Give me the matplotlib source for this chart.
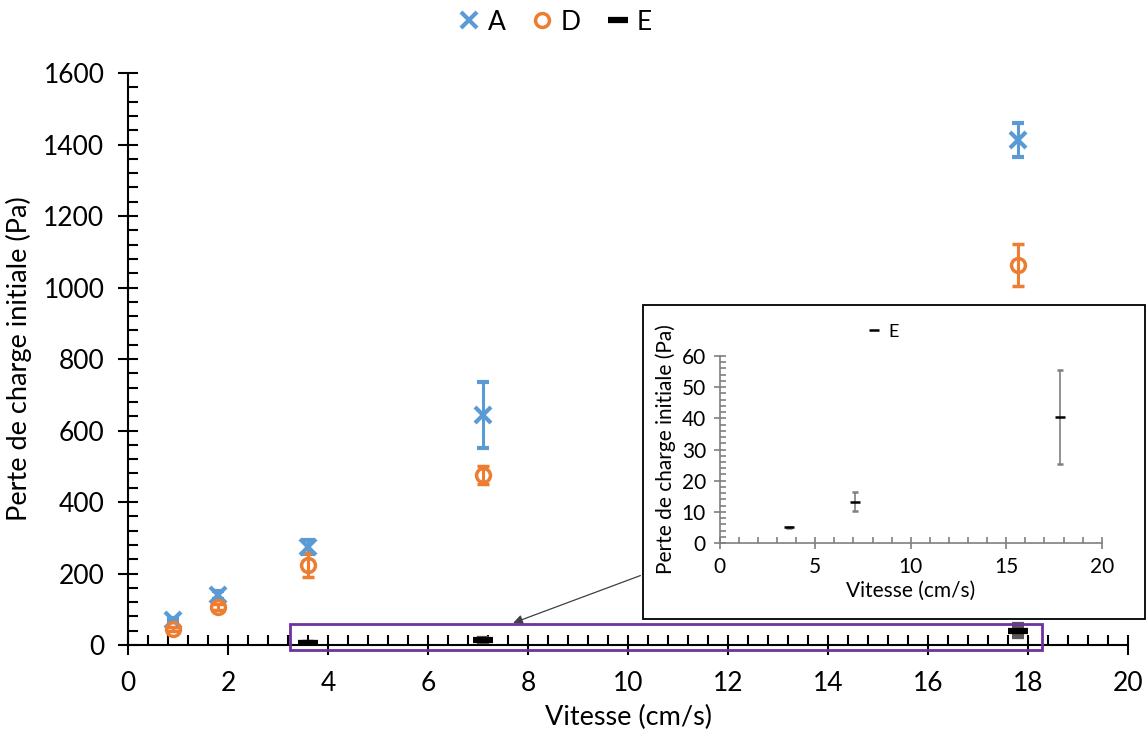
import matplotlib.pyplot as plt
from matplotlib.patches import Rectangle
from matplotlib.lines import Line2D
from matplotlib.ticker import MultipleLocator

plt.rcParams['font.family'] = ['Lato', 'DejaVu Sans']

# Data (vitesse in cm/s, perte de charge in Pa)
x_A = [0.9, 1.8, 3.6, 7.1, 17.8]
y_A = [70, 140, 275, 643, 1412]
err_A = [6, 10, 20, 92, 48]

x_D = [0.9, 1.8, 3.6, 7.1, 17.8]
y_D = [45, 106, 224, 475, 1063]
err_D = [6, 8, 33, 25, 60]

x_E = [3.6, 7.1, 17.8]
y_E = [5, 13.3, 40.5]
err_E = [0.3, 3, 15]

blue = '#5B9BD5'
orange = '#ED7D31'

fig = plt.figure(figsize=(11.48, 7.38), dpi=100)
ax = fig.add_axes([0.1115, 0.126, 0.8711, 0.775])

ax.errorbar(x_A, y_A, yerr=err_A, fmt='x', color=blue, ms=11, mew=3,
            elinewidth=2.2, capsize=4, capthick=2.2, zorder=3)
ax.errorbar(x_D, y_D, yerr=err_D, fmt='o', color=orange, mfc='none', ms=10, mew=2.5,
            elinewidth=2.2, capsize=4, capthick=2.2, zorder=3)
ax.errorbar(x_E, y_E, yerr=err_E, fmt='_', color='black', ms=14, mew=4.5,
            ecolor='#595959', elinewidth=2, capsize=4, capthick=2, zorder=3)

ax.set_xlim(0, 20)
ax.set_ylim(0, 1600)
ax.xaxis.set_major_locator(MultipleLocator(2))
ax.xaxis.set_minor_locator(MultipleLocator(0.4))
ax.yaxis.set_major_locator(MultipleLocator(200))
ax.yaxis.set_minor_locator(MultipleLocator(40))
ax.spines['top'].set_visible(False)
ax.spines['right'].set_visible(False)
for s in ['left', 'bottom']:
    ax.spines[s].set_linewidth(1.5)
ax.tick_params(which='major', direction='inout', length=14, width=1.5, labelsize=19)
ax.tick_params(axis='x', which='major', pad=12)
ax.tick_params(axis='y', which='major', pad=10)
ax.tick_params(which='minor', direction='in', length=7, width=1.5)
ax.set_xlabel('Vitesse (cm/s)', fontsize=19.5, labelpad=6)
ax.set_ylabel('Perte de charge initiale (Pa)', fontsize=19.5, labelpad=8)

handles = [
    Line2D([], [], ls='none', marker='x', color=blue, ms=11, mew=3),
    Line2D([], [], ls='none', marker='o', color=orange, mfc='none', ms=10, mew=2.5),
    Line2D([], [], ls='none', marker='_', color='black', ms=14, mew=4.5),
]
fig.legend(handles, ['A', 'D', 'E'], loc='center', bbox_to_anchor=(0.481, 0.97), ncol=3,
           frameon=False, fontsize=19, handletextpad=0.1, columnspacing=0.8,
           handlelength=1.2)

# Zoom region box on main plot
ax.add_patch(Rectangle((3.24, -14), 15.04, 73, fill=False, edgecolor='#7030A0',
                       linewidth=2, clip_on=False, zorder=4))

# Inset frame
fig.add_artist(Rectangle((643 / 1148, 1 - 619 / 738), 502 / 1148, 314 / 738,
                         transform=fig.transFigure, fill=False, edgecolor='black',
                         linewidth=1.3, zorder=5))

# Arrow from inset to box
ax.annotate('', xy=(7.65, 59), xytext=(10.3, 197),
            arrowprops=dict(arrowstyle='-|>', color='#404040', lw=0.9,
                            mutation_scale=14))

# Inset axes
ins = fig.add_axes([0.627, 0.2642, 0.3327, 0.2534])
gray = '#7F7F7F'
ins.errorbar(x_E, y_E, yerr=err_E, fmt='_', color='black', ms=7, mew=1.8,
             ecolor=gray, elinewidth=1.2, capsize=2, capthick=1.2)
ins.set_xlim(0, 20)
ins.set_ylim(0, 60)
ins.xaxis.set_major_locator(MultipleLocator(5))
ins.xaxis.set_minor_locator(MultipleLocator(1))
ins.yaxis.set_major_locator(MultipleLocator(10))
ins.yaxis.set_minor_locator(MultipleLocator(2))
ins.spines['top'].set_visible(False)
ins.spines['right'].set_visible(False)
for s in ['left', 'bottom']:
    ins.spines[s].set_color(gray)
    ins.spines[s].set_linewidth(1.2)
ins.tick_params(which='major', direction='inout', length=8, width=1.2, color=gray,
                labelsize=15, pad=6)
ins.tick_params(which='minor', direction='in', length=4, width=1.2, color=gray)
ins.set_xlabel('Vitesse (cm/s)', fontsize=15, labelpad=3)
ins.set_ylabel('Perte de charge initiale (Pa)', fontsize=15, labelpad=4)
ins.legend([Line2D([], [], ls='none', marker='_', color='black', ms=7, mew=1.8)], ['E'],
           loc='center', bbox_to_anchor=(0.43, 1.13), frameon=False, fontsize=13,
           handlelength=0.6, handletextpad=0.5)

fig.savefig('out.png', dpi=100)
